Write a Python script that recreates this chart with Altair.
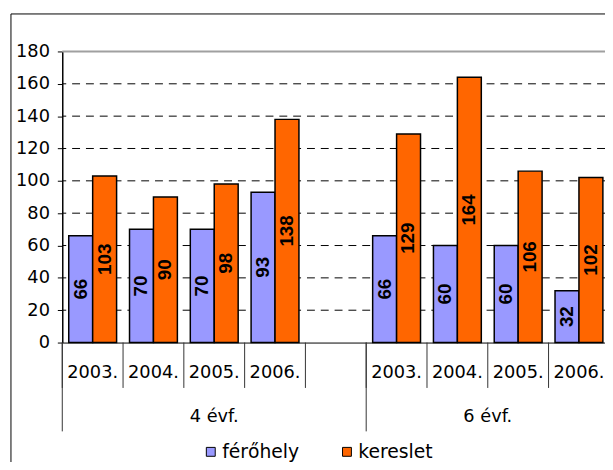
import altair as alt
import pandas as pd

# ---- data ----
groups = ["4 évf.", "6 évf."]
years = ["2003.", "2004.", "2005.", "2006."]
series = ["férőhely", "kereslet"]
ferohely_4 = [66, 70, 70, 93]
kereslet_4 = [103, 90, 98, 138]
ferohely_6 = [66, 60, 60, 32]
kereslet_6 = [129, 164, 106, 102]
colors = ["#9999FF", "#FF6600"]
y_ticks = [0, 20, 40, 60, 80, 100, 120, 140, 160, 180]
grid_vals = [20, 40, 60, 80, 100, 120, 140, 160]

cats = [f"4|{y}" for y in years] + ["4|gap"] + [f"6|{y}" for y in years]

rows = []
for y, f, k in zip(years, ferohely_4, kereslet_4):
    rows.append({"cat": f"4|{y}", "series": series[0], "value": f})
    rows.append({"cat": f"4|{y}", "series": series[1], "value": k})
for y, f, k in zip(years, ferohely_6, kereslet_6):
    rows.append({"cat": f"6|{y}", "series": series[0], "value": f})
    rows.append({"cat": f"6|{y}", "series": series[1], "value": k})
df = pd.DataFrame(rows)

W, H = 550, 295
FONT = "DejaVu Sans"

xscale = alt.Scale(domain=cats, range=[0, 554.4], paddingInner=0, paddingOuter=0)
yscale = alt.Scale(domain=[0, 180], nice=False)
xoff = alt.XOffset("series:N", scale=alt.Scale(domain=series, paddingInner=0, paddingOuter=0.27))

x_axis = alt.Axis(
    title=None,
    labelExpr="split(datum.value, '|')[1] == 'gap' ? '' : split(datum.value, '|')[1]",
    ticks=False,
    domain=True,
    domainColor="black",
    domainWidth=1,
    labelFont=FONT,
    labelFontSize=18,
    labelColor="black",
    labelAngle=0,
    labelBaseline="middle",
    labelPadding=30,
    labelOverlap=False,
    grid=False,
)
y_axis = alt.Axis(
    title=None,
    values=y_ticks,
    grid=False,
    domainColor="black",
    domainWidth=1.5,
    tickColor="black",
    tickSize=5,
    labelFont=FONT,
    labelFontSize=18,
    labelColor="black",
    labelPadding=8,
)

grid = alt.Chart(pd.DataFrame({"g": grid_vals})).mark_rule(
    color="black", strokeWidth=1, strokeDash=[8, 6]
).encode(y=alt.Y("g:Q", scale=yscale, axis=y_axis))

top_line = alt.Chart(pd.DataFrame({"g": [180]})).mark_rule(
    color="#a0a0a0", strokeWidth=2
).encode(y=alt.Y("g:Q", scale=yscale, axis=y_axis))

bars = alt.Chart(df).mark_bar(stroke="black", strokeWidth=1.5).encode(
    x=alt.X("cat:N", scale=xscale, axis=x_axis),
    xOffset=xoff,
    y=alt.Y("value:Q", scale=yscale, axis=y_axis),
    color=alt.Color(
        "series:N",
        scale=alt.Scale(domain=series, range=colors),
        legend=alt.Legend(
            title=None,
            orient="none",
            legendX=141,
            legendY=396,
            direction="horizontal",
            symbolType="square",
            symbolSize=81,
            symbolStrokeColor="black",
            symbolStrokeWidth=1,
            labelFont=FONT,
            labelFontSize=19,
            labelColor="black",
            labelOffset=2,
            columnPadding=38,
            padding=0,
        ),
    ),
)

labels = alt.Chart(df).transform_calculate(mid="datum.value / 2").mark_text(
    angle=270, font="Liberation Sans", fontWeight="bold", fontSize=19,
    color="black", align="center", baseline="middle"
).encode(
    x=alt.X("cat:N", scale=xscale, axis=x_axis),
    xOffset=xoff,
    y=alt.Y("mid:Q", scale=yscale, axis=y_axis),
    text=alt.Text("value:Q"),
)

short_div = alt.Chart(pd.DataFrame({"cat": cats})).mark_rule(
    color="#333333", strokeWidth=1
).encode(
    x=alt.X("cat:N", scale=xscale, axis=x_axis, bandPosition=0),
    y=alt.value(H),
    y2=alt.value(H + 46),
)

long_div = alt.Chart(pd.DataFrame({"cat": [cats[0], cats[5]]})).mark_rule(
    color="#333333", strokeWidth=1
).encode(
    x=alt.X("cat:N", scale=xscale, axis=x_axis, bandPosition=0),
    y=alt.value(H),
    y2=alt.value(H + 90),
)

grp4 = alt.Chart(pd.DataFrame({"cat": ["4|2005."], "grp": [groups[0]]})).mark_text(
    font=FONT, fontSize=18, color="black", align="center", baseline="middle"
).encode(
    x=alt.X("cat:N", scale=xscale, axis=x_axis, bandPosition=0.5),
    y=alt.value(H + 75),
    text="grp:N",
)

grp6 = alt.Chart(pd.DataFrame({"cat": ["6|2005."], "grp": [groups[1]]})).mark_text(
    font=FONT, fontSize=18, color="black", align="center", baseline="middle"
).encode(
    x=alt.X("cat:N", scale=xscale, axis=x_axis, bandPosition=0),
    y=alt.value(H + 75),
    text="grp:N",
)

frame_top = alt.Chart(pd.DataFrame({"d": [0]})).mark_rule(color="black", strokeWidth=1).encode(
    x=alt.value(-52), x2=alt.value(700), y=alt.value(-38)
)
frame_left = alt.Chart(pd.DataFrame({"d": [0]})).mark_rule(color="black", strokeWidth=1).encode(
    x=alt.value(-52), y=alt.value(-38), y2=alt.value(500)
)

chart = alt.layer(
    grid, top_line, bars, labels, short_div, long_div, grp4, grp6, frame_top, frame_left
).properties(
    width=W,
    height=H,
    autosize=alt.AutoSizeParams(type="none"),
    padding={"left": 55, "top": 41, "right": 0, "bottom": 118},
    background="white",
).configure_view(stroke=None)

chart.save("out.html", embed_options={"renderer": "svg", "actions": False})
